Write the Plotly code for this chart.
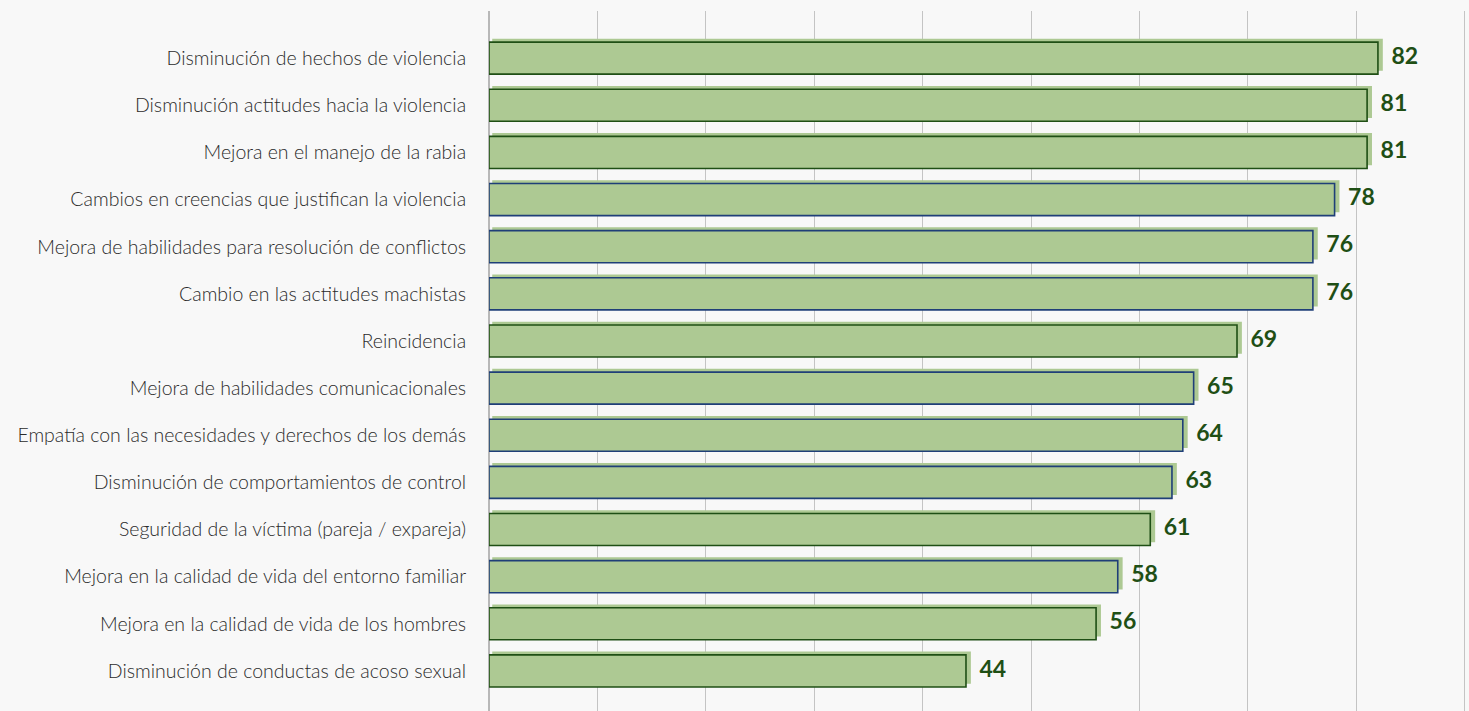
import plotly.graph_objects as go

categories = [
    "Disminución de hechos de violencia",
    "Disminución actitudes hacia la violencia",
    "Mejora en el manejo de la rabia",
    "Cambios en creencias que justifican la violencia",
    "Mejora de habilidades para resolución de conflictos",
    "Cambio en las actitudes machistas",
    "Reincidencia",
    "Mejora de habilidades comunicacionales",
    "Empatía con las necesidades y derechos de los demás",
    "Disminución de comportamientos de control",
    "Seguridad de la víctima (pareja / expareja)",
    "Mejora en la calidad de vida del entorno familiar",
    "Mejora en la calidad de vida de los hombres",
    "Disminución de conductas de acoso sexual",
]
values = [82, 81, 81, 78, 76, 76, 69, 65, 64, 63, 61, 58, 56, 44]
outline_group = ["g", "g", "g", "b", "b", "b", "g", "b", "b", "b", "g", "b", "g", "g"]

GREEN_DARK = "#1f4f15"
BLUE_DARK = "#1f3f78"
FILL = "#adc993"
outline_colors = [GREEN_DARK if g == "g" else BLUE_DARK for g in outline_group]

n = len(categories)
bw = 0.68
shadow_vals = [v + 0.15 for v in values]

fig = go.Figure()
# shadow bars (offset right/up)
fig.add_trace(go.Bar(
    y=categories, x=shadow_vals, orientation="h", base=0.3,
    width=bw, offset=-bw / 2 - 0.07,
    marker=dict(color=FILL, line=dict(width=0)),
    text=values, texttemplate=" %{text}", textposition="outside",
    textfont=dict(family="Lato", size=23, color=GREEN_DARK, weight="bold"),
    cliponaxis=False, hoverinfo="skip", showlegend=False,
))
# main bars
fig.add_trace(go.Bar(
    y=categories, x=values, orientation="h",
    width=bw, offset=-bw / 2,
    marker=dict(color=FILL, line=dict(width=1.6, color=outline_colors)),
    showlegend=False,
))

fig.update_layout(
    width=1469, height=711,
    barmode="overlay",
    paper_bgcolor="#f8f8f8", plot_bgcolor="#f8f8f8",
    margin=dict(l=489, r=0, t=11, b=0),
    font=dict(family="Lato", color="#333333"),
)
fig.update_xaxes(
    range=[0, 90.4], showgrid=True, gridcolor="#c4c4c4", gridwidth=1,
    dtick=10, tick0=0, showticklabels=False, zeroline=True,
    zerolinecolor="#b8b8b8", zerolinewidth=1.5, showline=False,
)
fig.update_yaxes(
    categoryorder="array", categoryarray=categories,
    range=[n - 1 + 0.85, -1.0], showgrid=False, zeroline=False,
    ticks="outside", ticklen=18, tickcolor="rgba(0,0,0,0)",
    tickfont=dict(family="Lato", size=19.5, color="#2b2b2b", weight=300),
)

fig.write_html(
    "out.html",
    config={"displayModeBar": False},
    post_script="document.body.style.margin='0';document.body.style.background='#f8f8f8';",
)
